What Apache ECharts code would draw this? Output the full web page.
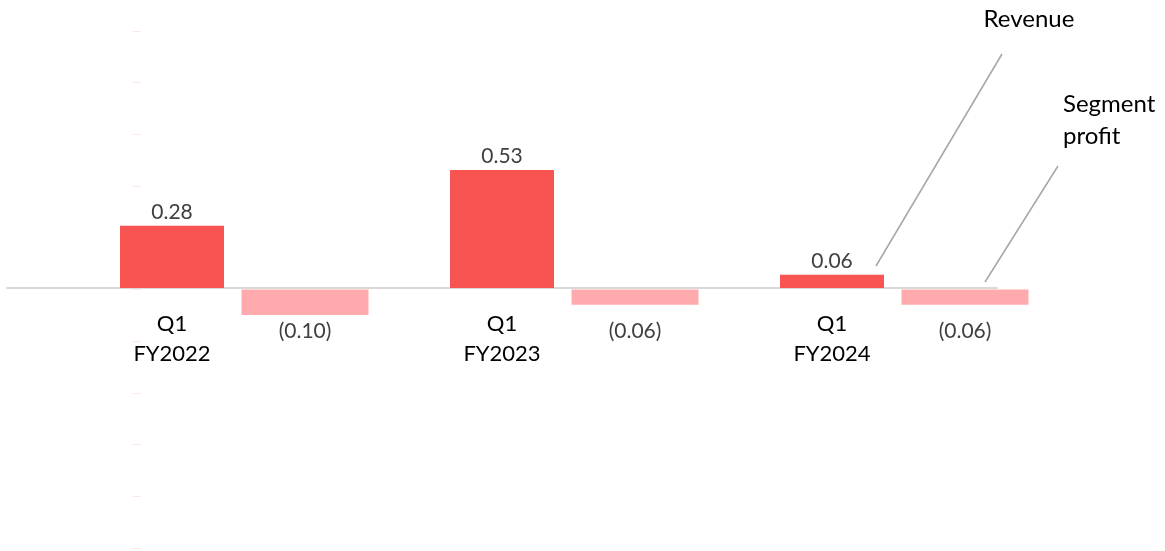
<!DOCTYPE html>
<html>
<head>
<meta charset="utf-8">
<script src="https://cdn.jsdelivr.net/npm/echarts@6/dist/echarts.min.js"></script>
<style>html,body{margin:0;padding:0;background:#fff;}#c{width:1165px;height:551px;}</style>
</head>
<body>
<div id="c"></div>
<script>
const categories = ['Q1\nFY2022', 'Q1\nFY2023', 'Q1\nFY2024'];
const revenue = [0.28, 0.53, 0.06];
const segmentProfit = [-0.10, -0.06, -0.06];
const seriesNames = ['Revenue', 'Segment profit'];

const FONT = 'Lato';
const chart = echarts.init(document.getElementById('c'), null, {renderer: 'canvas'});
const fmtPos = p => p.value.toFixed(2);
const fmtNeg = p => '(' + Math.abs(p.value).toFixed(2) + ')';

chart.setOption({
  animation: false,
  backgroundColor: '#ffffff',
  grid: [
    {left: 7, width: 990, top: 65.5, bottom: 263, outerBoundsMode: 'none', containLabel: false},
    {left: 140, width: 990, top: 34.5, bottom: 6.5, outerBoundsMode: 'none', containLabel: false},
    {left: 141, width: 1, top: 31, bottom: 3, outerBoundsMode: 'none', containLabel: false}
  ],
  xAxis: [
    {
      type: 'category', gridIndex: 0, data: categories, position: 'bottom',
      axisLine: {show: true, lineStyle: {color: '#d9d9d9', width: 2}},
      axisTick: {show: false},
      axisLabel: {color: '#000000', fontFamily: FONT, fontSize: 22, lineHeight: 30, margin: 21}
    },
    {
      type: 'category', gridIndex: 1, data: categories,
      axisLine: {show: false}, axisTick: {show: false}, axisLabel: {show: false}
    },
    {
      type: 'value', gridIndex: 2, show: false
    }
  ],
  yAxis: [
    {type: 'value', gridIndex: 0, min: 0, max: 1, show: false, splitLine: {show: false}},
    {type: 'value', gridIndex: 1, min: -1, max: 1, show: false, splitLine: {show: false}},
    {
      type: 'value', gridIndex: 2, min: 0, max: 10, interval: 1,
      axisLine: {show: false}, axisLabel: {show: false}, splitLine: {show: false},
      axisTick: {show: true, length: 8, lineStyle: {color: '#fde6e6', width: 1}}
    }
  ],
  series: [
    {
      name: seriesNames[0], type: 'bar', xAxisIndex: 0, yAxisIndex: 0,
      data: revenue, barWidth: 104,
      itemStyle: {color: '#f85552'},
      label: {show: true, position: 'top', distance: 3, formatter: fmtPos,
        color: '#404040', fontFamily: FONT, fontSize: 21}
    },
    {
      name: seriesNames[1], type: 'bar', xAxisIndex: 1, yAxisIndex: 1,
      data: segmentProfit, barWidth: 127,
      itemStyle: {color: '#ffabad'},
      label: {show: true, position: ['50%', 42], align: 'center', verticalAlign: 'middle',
        formatter: fmtNeg, color: '#404040', fontFamily: FONT, fontSize: 21}
    }
  ],
  graphic: [
    {type: 'line', shape: {x1: 1002, y1: 54, x2: 876, y2: 266},
      style: {stroke: '#a6a6a6', lineWidth: 1.5}},
    {type: 'line', shape: {x1: 1058, y1: 166, x2: 985, y2: 282},
      style: {stroke: '#a6a6a6', lineWidth: 1.5}},
    {type: 'text', x: 1029, y: 19,
      style: {text: seriesNames[0], fill: '#000', font: '24px ' + FONT, textAlign: 'center', textVerticalAlign: 'middle'}},
    {type: 'text', x: 1063, y: 88,
      style: {text: 'Segment\nprofit', fill: '#000', font: '24px ' + FONT, lineHeight: 32, textAlign: 'left', textVerticalAlign: 'top'}}
  ]
});
</script>
</body>
</html>
